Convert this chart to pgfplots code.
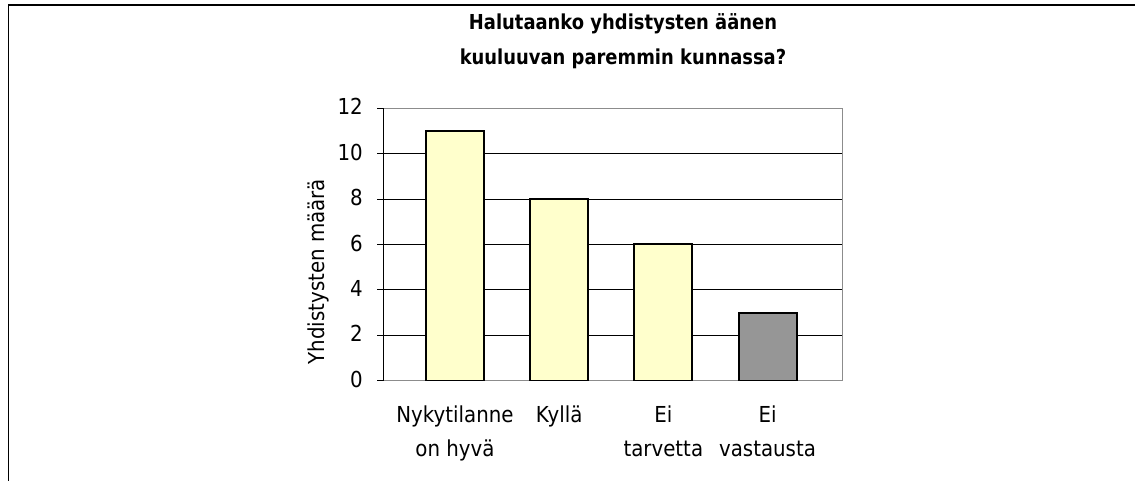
\documentclass[border=0pt]{standalone}
\usepackage{pgfplots}
\pgfplotsset{compat=1.18}
\usepackage{fontspec}
\setmainfont{DejaVu Sans}[FakeStretch=0.9, BoldFeatures={FakeStretch=0.87}]
\definecolor{baryellow}{HTML}{FFFFCC}
\definecolor{bargray}{HTML}{969696}
\definecolor{framegray}{HTML}{8C8C8C}
\begin{document}
\begin{tikzpicture}
\path[use as bounding box] (0,0) rectangle (1135bp,481bp);
\draw[line width=1.8bp] (8.5bp,0) -- (8.5bp,476bp) -- (1135bp,476bp);
\node[anchor=base, inner sep=0pt, font=\fontsize{20.6bp}{24bp}\selectfont\bfseries] at (623bp,451bp) {Halutaanko yhdistysten äänen};
\node[anchor=base, inner sep=0pt, font=\fontsize{20.6bp}{24bp}\selectfont\bfseries] at (623bp,416bp) {kuuluuvan paremmin kunnassa?};
\begin{axis}[
  at={(383bp,100.3bp)}, anchor=south west,
  scale only axis, width=459bp, height=272.4bp,
  xmin=-0.691, xmax=3.715, ymin=0, ymax=12,
  ytick={0,2,4,6,8,10,12},
  xtick={0,1,2,3},
  xticklabels={{Nykytilanne\\on hyvä}, {Kyllä}, {Ei\\tarvetta}, {Ei\\vastausta}},
  tick align=outside,
  major tick length=6bp,
  ytick pos=left,
  xtick style={draw=none},
  ytick style={black, line width=0.8bp},
  axis line style={framegray, line width=1bp},
  /pgf/number format/assume math mode=true,
  ticklabel style={font=\fontsize{22bp}{34bp}\selectfont},
  yticklabel style={anchor=east, inner sep=0pt, xshift=-14bp, yshift=1.5bp},
  xticklabel style={anchor=north, inner sep=0pt, align=center, yshift=-18.5bp},
  ylabel={Yhdistysten määrä},
  ylabel style={font=\fontsize{22bp}{26bp}\selectfont, at={(axis description cs:-0.1416,0.40)}, anchor=center},
  extra y ticks={2,4,6,8,10},
  extra y tick labels={},
  extra y tick style={grid=major, major grid style={black, line width=0.8bp}, ytick style={draw=none}},
  ybar, bar width=58bp,
]
\addplot[ybar, bar shift=0pt, fill=baryellow, draw=black, line width=2bp] coordinates {(0,11) (1,8) (2,6)};
\addplot[ybar, bar shift=0pt, fill=bargray, draw=black, line width=2bp] coordinates {(3,3)};
\draw[black, line width=1bp] (rel axis cs:0,0) -- (rel axis cs:0,1);
\end{axis}
\end{tikzpicture}
\end{document}
